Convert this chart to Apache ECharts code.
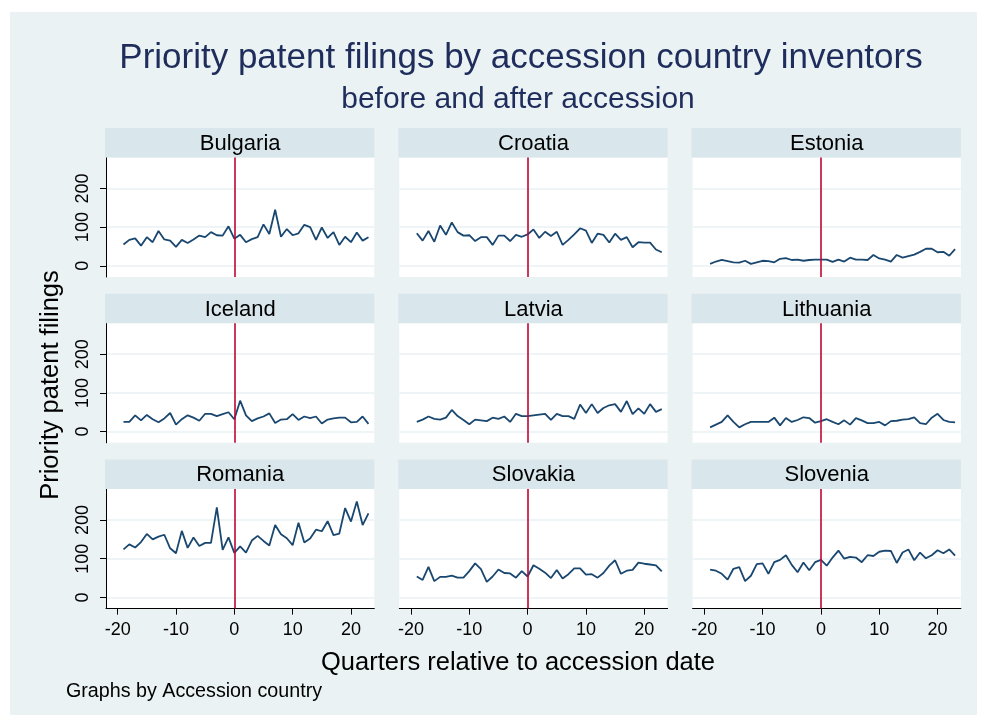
<!DOCTYPE html>
<html>
<head>
<meta charset="utf-8">
<script src="https://cdn.jsdelivr.net/npm/echarts@6/dist/echarts.min.js"></script>
<style>
html,body{margin:0;padding:0;background:#fff;}
#chart{width:987px;height:727px;}
</style>
</head>
<body>
<div id="chart"></div>
<script>
// ---- data ----
const quarters = [-19,-18,-17,-16,-15,-14,-13,-12,-11,-10,-9,-8,-7,-6,-5,-4,-3,-2,-1,0,1,2,3,4,5,6,7,8,9,10,11,12,13,14,15,16,17,18,19,20,21,22,23];
const countries = ['Bulgaria','Croatia','Estonia','Iceland','Latvia','Lithuania','Romania','Slovakia','Slovenia'];
const bulgaria  = [55,67,71,52,74,61,90,68,65,49,67,59,68,78,74,87,79,78,102,70,80,61,69,74,107,82,145,75,95,79,84,106,100,67,99,72,87,54,75,61,86,65,74];
const croatia   = [84,65,90,62,104,80,112,87,78,79,64,74,74,54,78,78,64,80,75,81,94,72,88,77,88,54,67,81,97,91,59,83,80,60,83,67,74,48,61,60,60,42,35];
const estonia   = [5,11,15,12,9,8,13,5,9,13,12,9,18,20,15,16,13,15,16,16,16,10,16,11,21,16,16,15,28,19,16,11,28,21,25,29,36,44,44,35,36,26,43];
const iceland   = [25,25,42,29,43,32,24,34,48,18,32,42,36,28,46,46,40,45,50,32,80,42,27,34,39,47,22,31,32,45,30,39,35,39,21,31,34,36,36,24,25,39,20];
const latvia    = [25,31,39,33,31,36,56,40,30,19,31,29,27,36,33,39,25,46,40,40,42,44,46,30,46,40,40,33,70,48,71,48,61,68,71,51,79,45,60,46,71,51,58];
const lithuania = [11,18,25,42,25,11,19,25,25,25,25,36,16,35,25,30,37,35,23,27,32,25,19,29,18,35,29,22,22,25,16,27,28,31,32,37,22,19,36,46,30,25,24];
const romania   = [124,137,129,143,164,150,157,162,127,114,172,128,155,133,141,141,233,123,155,115,132,116,147,159,146,134,187,163,153,135,193,142,152,175,171,197,161,165,231,196,248,187,217];
const slovakia  = [54,45,79,42,53,53,56,51,51,68,88,73,40,54,72,63,62,51,68,54,83,74,64,50,71,49,60,75,75,59,60,51,63,82,96,61,69,71,90,87,85,83,67];
const slovenia  = [72,69,61,46,74,78,42,56,86,88,61,91,97,109,84,65,90,70,91,97,82,103,121,100,105,103,91,109,107,118,121,120,89,116,124,96,116,101,109,122,114,124,108];
const seriesValues = [bulgaria,croatia,estonia,iceland,latvia,lithuania,romania,slovakia,slovenia];
const yTickValues = [0,100,200];
const xTickValues = [-20,-10,0,10,20];
const accessionQuarter = 0;

// ---- layout ----
const colLeft = [106, 399.3, 692.6];
const rowTop = [157.5, 323.3, 489.1];
const plotW = 268.3, plotH = 119.5, stripH = 29.5;
const FONT = '"Liberation Sans", Arial, Helvetica, sans-serif';
const NAVY = '#1a476f';
const RED = '#c10534';

const grids = [], xAxes = [], yAxes = [], series = [];
const graphics = [{
  type: 'rect', z: -10, silent: true,
  shape: {x: 10, y: 12, width: 967, height: 703},
  style: {fill: '#eaf2f3'}
}];

countries.forEach((name, i) => {
  const r = Math.floor(i / 3), c = i % 3;
  const left = colLeft[c], top = rowTop[r];
  grids.push({left: left, top: top, width: plotW, height: plotH, show: true,
    backgroundColor: '#ffffff', borderWidth: 0, containLabel: false});
  graphics.push({type: 'rect', z: 1, silent: true,
    shape: {x: left - 1, y: top - stripH, width: plotW + 1, height: stripH},
    style: {fill: '#d9e6eb'}});
  graphics.push({type: 'text', z: 2, silent: true,
    style: {text: name, x: left + plotW / 2, y: top - stripH / 2 + 1, font: '22px ' + FONT,
      fill: '#000', textAlign: 'center', textVerticalAlign: 'middle'}});
  const isBottom = r === 2, isLeft = c === 0;
  xAxes.push({gridIndex: i, type: 'value', min: -22, max: 24,
    axisLine: {show: isBottom, onZero: false, lineStyle: {color: '#000', width: 1}},
    axisTick: {show: isBottom, inside: false, length: 6, customValues: xTickValues, lineStyle: {color: '#000'}},
    axisLabel: {show: isBottom, customValues: xTickValues, margin: 12, fontSize: 18, color: '#000', fontFamily: FONT},
    splitLine: {show: false}});
  yAxes.push({gridIndex: i, type: 'value', min: -29, max: 280,
    axisLine: {show: isLeft, onZero: false, lineStyle: {color: '#000', width: 1}},
    axisTick: {show: isLeft, inside: false, length: 6, customValues: yTickValues, lineStyle: {color: '#000'}},
    axisLabel: {show: isLeft, customValues: yTickValues, rotate: 90, margin: 14, fontSize: 18, color: '#000', fontFamily: FONT},
    splitLine: {show: true, lineStyle: {color: '#eaf2f3', width: 1.5}}});
  series.push({type: 'line', xAxisIndex: i, yAxisIndex: i,
    data: quarters.map((q, k) => [q, seriesValues[i][k]]),
    showSymbol: false, symbol: 'none',
    lineStyle: {color: NAVY, width: 1.8}, z: 3,
    markLine: {silent: true, symbol: 'none', label: {show: false},
      lineStyle: {color: RED, width: 1.6, type: 'solid'},
      data: [{xAxis: accessionQuarter}]}});
});

graphics.push({type: 'text', silent: true, z: 2,
  style: {text: 'Priority patent filings by accession country inventors', x: 521, y: 58,
    font: '35px ' + FONT, fill: '#1e2d5c', textAlign: 'center', textVerticalAlign: 'middle'}});
graphics.push({type: 'text', silent: true, z: 2,
  style: {text: 'before and after accession', x: 518, y: 100,
    font: '30px ' + FONT, fill: '#1e2d5c', textAlign: 'center', textVerticalAlign: 'middle'}});
graphics.push({type: 'text', silent: true, z: 2,
  x: 51, y: 385, rotation: Math.PI / 2,
  style: {text: 'Priority patent filings', x: 0, y: 0,
    font: '25.5px ' + FONT, fill: '#000', textAlign: 'center', textVerticalAlign: 'middle'}});
graphics.push({type: 'text', silent: true, z: 2,
  style: {text: 'Quarters relative to accession date', x: 518, y: 663,
    font: '25.5px ' + FONT, fill: '#000', textAlign: 'center', textVerticalAlign: 'middle'}});
graphics.push({type: 'text', silent: true, z: 2,
  style: {text: 'Graphs by Accession country', x: 66, y: 692,
    font: '19.7px ' + FONT, fill: '#000', textAlign: 'left', textVerticalAlign: 'middle'}});

const chart = echarts.init(document.getElementById('chart'), null, {renderer: 'canvas'});
chart.setOption({
  backgroundColor: '#ffffff',
  animation: false,
  grid: grids, xAxis: xAxes, yAxis: yAxes, series: series,
  graphic: graphics
});
</script>
</body>
</html>
